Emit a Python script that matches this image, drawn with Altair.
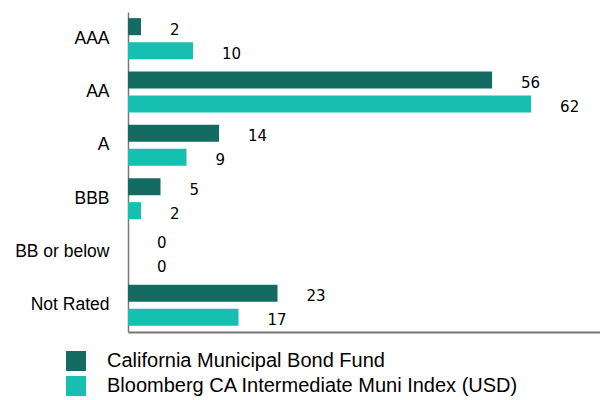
import altair as alt
import pandas as pd

categories = ["AAA", "AA", "A", "BBB", "BB or below", "Not Rated"]
series = ["California Municipal Bond Fund", "Bloomberg CA Intermediate Muni Index (USD)"]
fund_values = [2, 56, 14, 5, 0, 23]
index_values = [10, 62, 9, 2, 0, 17]
colors = ["#136b62", "#17bfb1"]

rows = []
for c, f, i in zip(categories, fund_values, index_values):
    rows.append({"cat": c, "series": series[0], "value": f})
    rows.append({"cat": c, "series": series[1], "value": i})
df = pd.DataFrame(rows)

y = alt.Y("cat:N", sort=categories, title=None,
          scale=alt.Scale(paddingInner=0.23, paddingOuter=0.115),
          axis=alt.Axis(domain=True, domainColor="#777777", domainWidth=1.5, ticks=False,
                        labelFont="Liberation Sans", labelFontSize=17.5, labelColor="#000000",
                        labelPadding=19))
yoff = alt.YOffset("series:N", sort=series, scale=alt.Scale(paddingInner=0.29, paddingOuter=0))
x = alt.X("value:Q", title=None, scale=alt.Scale(domain=[0, 72.6], nice=False),
          axis=alt.Axis(domain=True, domainColor="#777777", domainWidth=2, ticks=False,
                        labels=False, grid=False))

base = alt.Chart(df)
bars = base.mark_bar().encode(
    y=y, yOffset=yoff, x=x,
    color=alt.Color("series:N", sort=series,
                    scale=alt.Scale(domain=series, range=colors),
                    legend=alt.Legend(title=None, orient="none", legendX=-62, legendY=339,
                                      symbolType="square", symbolSize=400, symbolStrokeWidth=0,
                                      labelFont="Liberation Sans", labelFontSize=20,
                                      labelColor="#000000", labelOffset=21, rowPadding=5,
                                      padding=0, labelLimit=600)),
)
texts = base.mark_text(align="left", baseline="middle", dx=29, dy=3,
                       font="DejaVu Sans", fontSize=15, color="#000000").encode(
    y=y, yOffset=yoff, x=x, text="value:Q")

chart = (bars + texts).properties(
    width=472, height=320,
    autosize=alt.AutoSizeParams(type="none"),
    padding={"left": 120, "top": 4, "right": 0, "bottom": 68},
).configure_view(stroke=None)

chart.save("out.html", embed_options={"renderer": "svg", "actions": False})
